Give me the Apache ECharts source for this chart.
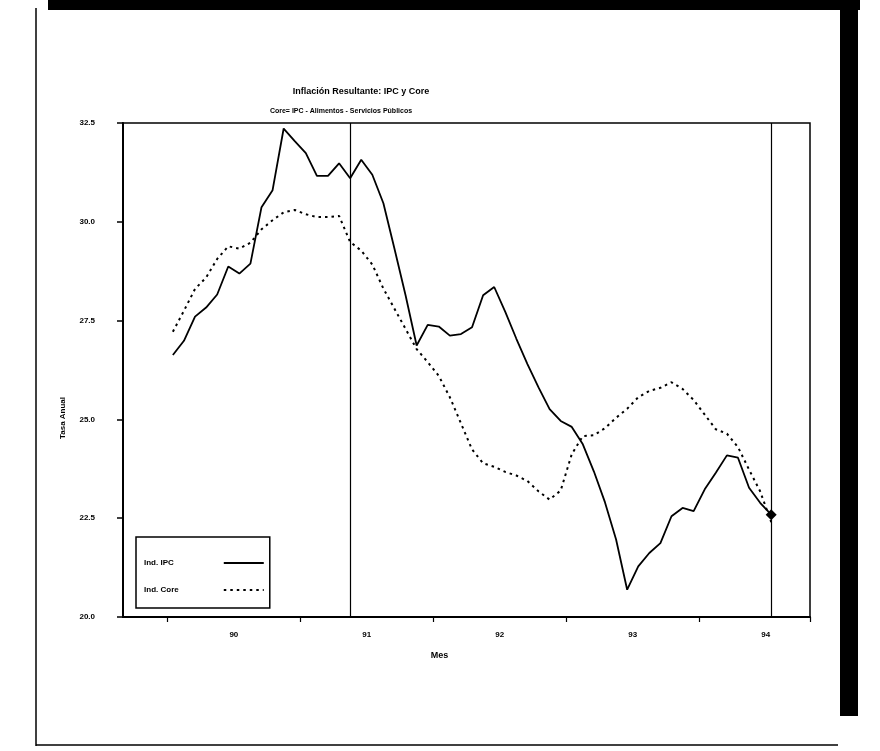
<!DOCTYPE html>
<html>
<head>
<meta charset="utf-8">
<script src="https://cdn.jsdelivr.net/npm/echarts@6/dist/echarts.min.js"></script>
<style>
html,body{margin:0;padding:0;background:#fff;}
#c{width:880px;height:751px;}
</style>
</head>
<body>
<div id="c"></div>
<script>
// ---- data ----
const titleText = 'Inflación Resultante: IPC y Core';
const subtitleText = 'Core= IPC - Alimentos - Servicios Públicos';
const yAxisName = 'Tasa Anual';
const xAxisName = 'Mes';
const seriesNames = ['Ind. IPC', 'Ind. Core'];
const yearLabels = ['90', '91', '92', '93', '94'];
const axisFirstMonth = '1989-09';
const axisLastMonth = '1994-10';
const dataFirstMonth = '1990-01';
const markerMonths = ['1991-05', '1994-07'];
const ipc = [26.63,26.99,27.60,27.83,28.16,28.87,28.69,28.94,30.37,30.80,
             32.36,32.04,31.74,31.16,31.16,31.48,31.10,31.57,31.19,30.47,
             29.32,28.14,26.87,27.39,27.35,27.12,27.16,27.33,28.14,28.35,
             27.72,27.04,26.40,25.81,25.26,24.96,24.81,24.37,23.68,22.90,
             21.96,20.69,21.28,21.62,21.87,22.55,22.76,22.68,23.23,23.65,
             24.09,24.03,23.27,22.89,22.59];
const core = [27.22,27.75,28.30,28.59,29.06,29.38,29.32,29.47,29.81,30.04,
              30.24,30.30,30.19,30.12,30.12,30.15,29.49,29.27,28.92,28.31,
              27.80,27.29,26.78,26.45,26.10,25.56,24.90,24.24,23.89,23.80,
              23.67,23.58,23.44,23.18,22.97,23.20,24.12,24.58,24.60,24.78,
              25.04,25.27,25.56,25.72,25.80,25.94,25.77,25.49,25.12,24.75,
              24.64,24.30,23.73,23.18,22.40];
const yMin = 20, yMax = 32.5, yStep = 2.5;

// ---- build categories (monthly) ----
const months = [];
for (let y = 1985; y <= 2000; y++) {
  for (let m = 1; m <= 12; m++) {
    const k = y + '-' + (m < 10 ? '0' + m : '' + m);
    if (k >= axisFirstMonth && k <= axisLastMonth) months.push(k);
  }
}
const offset = months.indexOf(dataFirstMonth);
function pad(arr) {
  const out = months.map(() => null);
  arr.forEach((v, i) => { out[offset + i] = v; });
  return out;
}
const lastMonth = months[offset + ipc.length - 1];
const firstYear = +yearLabels[0] + 1900;

const FONT = '"Liberation Sans", Arial, sans-serif';
const legendRich = {
  a: {fontFamily: FONT, fontSize: 8, fontWeight: 'bold', color: '#000', padding: [0, 45, 0, 0]},
  b: {fontFamily: FONT, fontSize: 8, fontWeight: 'bold', color: '#000', padding: [0, 40, 0, 0]}
};
const chart = echarts.init(document.getElementById('c'), null, {renderer: 'canvas'});
chart.setOption({
  backgroundColor: '#fff',
  animation: false,
  title: [
    {text: titleText, left: 356, top: 82, textAlign: 'center',
     textStyle: {fontFamily: FONT, fontSize: 9, fontWeight: 'bold', color: '#000'}},
    {text: subtitleText, left: 336, top: 103, textAlign: 'center',
     textStyle: {fontFamily: FONT, fontSize: 7, fontWeight: 'bold', color: '#000'}}
  ],
  grid: {left: 123, right: 70, top: 123, bottom: 134, show: true,
         borderColor: '#000', borderWidth: 1.5, backgroundColor: 'transparent'},
  legend: {
    orient: 'vertical', left: 136, top: 537, align: 'right',
    data: seriesNames,
    backgroundColor: '#fff', borderColor: '#000', borderWidth: 1.5, borderRadius: 0,
    padding: [22, 5, 14, 8], itemGap: 19, itemWidth: 40, itemHeight: 10,
    selectedMode: false,
    itemStyle: {opacity: 0},
    formatter: n => '{' + (n === seriesNames[0] ? 'a' : 'b') + '|' + n + '}',
    textStyle: {fontFamily: FONT, fontSize: 8, fontWeight: 'bold', color: '#000', rich: legendRich}
  },
  xAxis: {
    type: 'category', data: months, boundaryGap: true,
    name: xAxisName, nameLocation: 'middle', nameGap: 34,
    nameTextStyle: {fontFamily: FONT, fontSize: 9, fontWeight: 'bold', color: '#000', padding: [0, 54, 0, 0]},
    axisLine: {lineStyle: {color: '#000', width: 2}},
    axisTick: {show: true, length: 5, lineStyle: {color: '#000', width: 1.2},
               interval: (i, v) => v.slice(5) === '01'},
    axisLabel: {
      interval: (i, v) => v.slice(5) === '07',
      formatter: v => yearLabels[+v.slice(0, 4) - firstYear] || '',
      fontFamily: FONT, fontSize: 8, fontWeight: 'bold', color: '#000',
      margin: 14, padding: [0, 11, 0, 0]
    },
    splitLine: {show: false}
  },
  yAxis: {
    type: 'value', min: yMin, max: yMax, interval: yStep,
    name: yAxisName, nameLocation: 'middle', nameGap: 56, nameRotate: 90,
    nameTextStyle: {fontFamily: FONT, fontSize: 8, fontWeight: 'bold', color: '#000', padding: [0, 96, 0, 0]},
    axisLine: {show: true, lineStyle: {color: '#000', width: 2}},
    axisTick: {show: true, length: 6, lineStyle: {color: '#000', width: 1.5}},
    axisLabel: {formatter: v => v.toFixed(1), fontFamily: FONT, fontSize: 8,
                fontWeight: 'bold', color: '#000', margin: 28},
    splitLine: {show: false}
  },
  series: [
    {
      name: seriesNames[0], type: 'line', data: pad(ipc), symbol: 'none',
      lineStyle: {color: '#000', width: 1.8}, itemStyle: {color: '#000'},
      markLine: {
        silent: true, symbol: 'none', label: {show: false},
        lineStyle: {color: '#000', width: 1.2, type: 'solid'},
        data: markerMonths.map(m => ({xAxis: m}))
      },
      markPoint: {
        symbol: 'diamond', symbolSize: 11, label: {show: false},
        itemStyle: {color: '#000', opacity: 1},
        data: [{coord: [lastMonth, ipc[ipc.length - 1]]}]
      }
    },
    {
      name: seriesNames[1], type: 'line', data: pad(core), symbol: 'none',
      lineStyle: {color: '#000', width: 2, type: [2.5, 4]}, itemStyle: {color: '#000'}
    }
  ],
  graphic: [
    {type: 'rect', shape: {x: 48, y: 0, width: 812, height: 10}, style: {fill: '#000'}, silent: true},
    {type: 'rect', shape: {x: 840, y: 0, width: 18, height: 716}, style: {fill: '#000'}, silent: true},
    {type: 'line', shape: {x1: 36, y1: 8, x2: 36, y2: 746}, style: {stroke: '#000', lineWidth: 1.5}, silent: true},
    {type: 'line', shape: {x1: 36, y1: 745, x2: 838, y2: 745}, style: {stroke: '#000', lineWidth: 1.5}, silent: true}
  ]
});
</script>
</body>
</html>
